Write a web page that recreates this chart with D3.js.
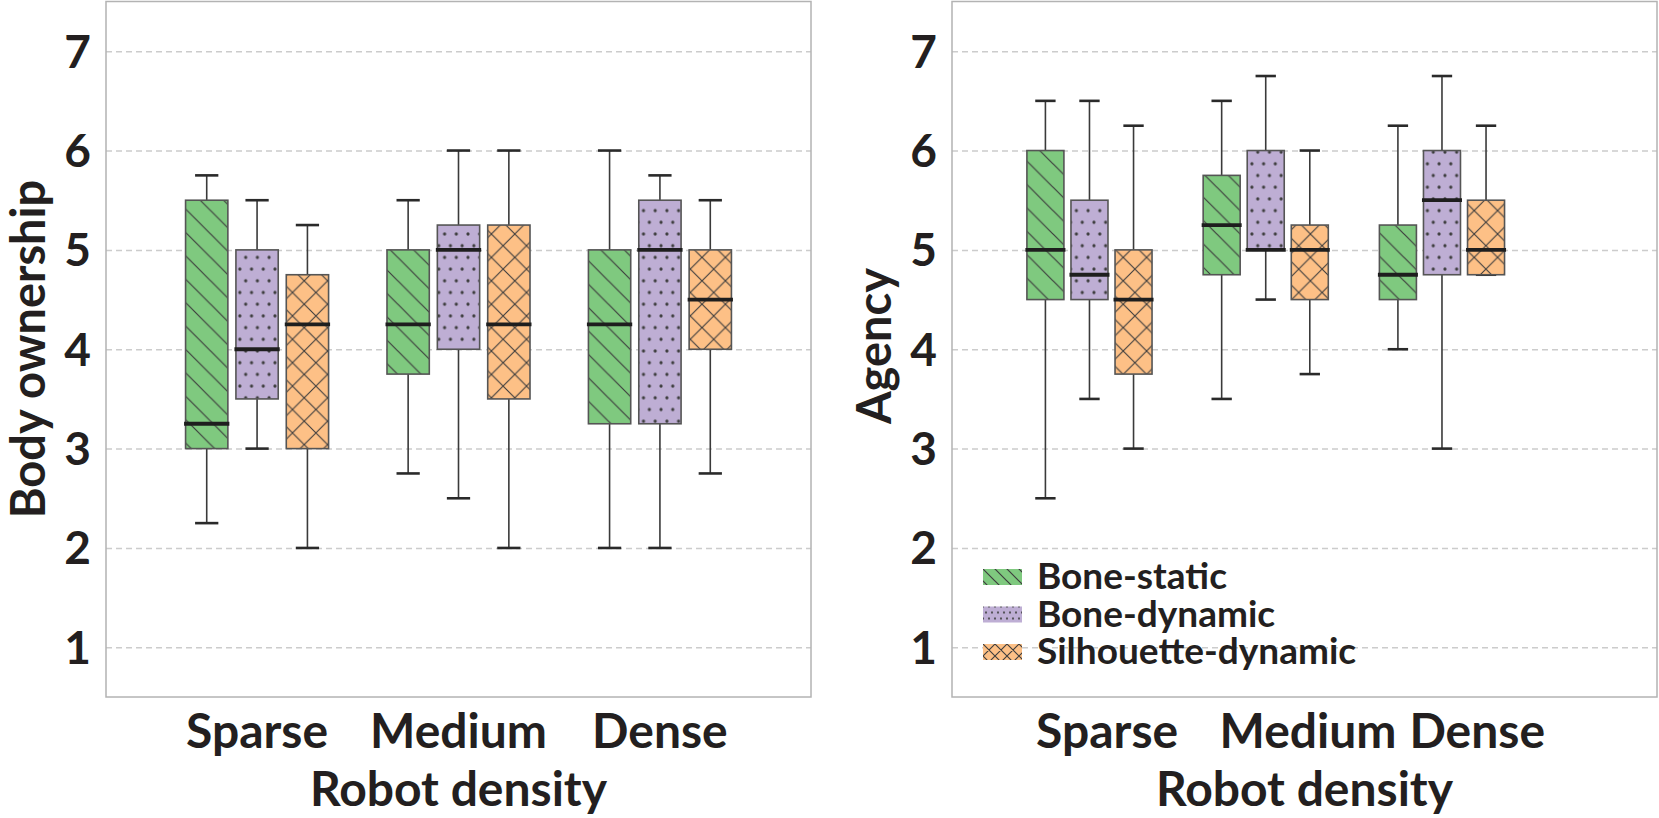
<!DOCTYPE html>
<html>
  <head>
    <meta charset="utf-8">
    <script src="https://d3js.org/d3.v7.min.js"></script>
    <title>Robot density boxplots</title>
    <style>
      body { margin: 0px; background: #fff; }
      text { font-family: Lato, 'Open Sans', sans-serif; font-weight: 700; fill: #231f20; }
      .tick-label { font-size: 46px; }
      .axis-label { font-size: 47px; }
      .legend-label { font-size: 37px; }
    </style>
  </head>
  <body>
    <svg width="1659" height="818"></svg>
    <script>
      const categories = ['Sparse', 'Medium', 'Dense'];
      const styles = ['Bone-static', 'Bone-dynamic', 'Silhouette-dynamic'];
      const styleColors = ['#7fc97f', '#beaed4', '#fdc086'];
      const yTicks = [1, 2, 3, 4, 5, 6, 7];

      // [low whisker, Q1, median, Q3, high whisker] per density, per style
      const bodySparse = [[2.25, 3.0, 3.25, 5.5, 5.75], [3.0, 3.5, 4.0, 5.0, 5.5], [2.0, 3.0, 4.25, 4.75, 5.25]];
      const bodyMedium = [[2.75, 3.75, 4.25, 5.0, 5.5], [2.5, 4.0, 5.0, 5.25, 6.0], [2.0, 3.5, 4.25, 5.25, 6.0]];
      const bodyDense  = [[2.0, 3.25, 4.25, 5.0, 6.0], [2.0, 3.25, 5.0, 5.5, 5.75], [2.75, 4.0, 4.5, 5.0, 5.5]];

      const agencySparse = [[2.5, 4.5, 5.0, 6.0, 6.5], [3.5, 4.5, 4.75, 5.5, 6.5], [3.0, 3.75, 4.5, 5.0, 6.25]];
      const agencyMedium = [[3.5, 4.75, 5.25, 5.75, 6.5], [4.5, 5.0, 5.0, 6.0, 6.75], [3.75, 4.5, 5.0, 5.25, 6.0]];
      const agencyDense  = [[4.0, 4.5, 4.75, 5.25, 6.25], [3.0, 4.75, 5.5, 6.0, 6.75], [4.75, 4.75, 5.0, 5.5, 6.25]];

      // where the category labels sit (in category units)
      const bodyTickAt = [0, 1, 2];
      const agencyTickAt = [0.1, 1.24, 2.2];

      const svg = d3.select('svg');
      const defs = svg.append('defs');

      // hatch patterns: diagonal, dots, cross
      const hatchColor = '#3d3d3d';
      function makePatterns(prefix, u) {
        const diag = defs.append('pattern').attr('id', prefix + '0')
          .attr('patternUnits', 'userSpaceOnUse').attr('width', u).attr('height', u);
        diag.append('rect').attr('width', u).attr('height', u).attr('fill', styleColors[0]);
        diag.append('path')
          .attr('d', `M-2,-2L${u + 2},${u + 2}M${u - 2},-2L${u + 2},2M-2,${u - 2}L2,${u + 2}`)
          .attr('stroke', hatchColor).attr('stroke-width', 1.2);

        const h = u / 2;
        const dots = defs.append('pattern').attr('id', prefix + '1')
          .attr('patternUnits', 'userSpaceOnUse').attr('width', h).attr('height', u);
        dots.append('rect').attr('width', h).attr('height', u).attr('fill', styleColors[1]);
        [[0, 0], [h, 0], [0, u], [h, u], [h / 2, h]].forEach(p => {
          dots.append('circle').attr('cx', p[0]).attr('cy', p[1])
            .attr('r', u > 15 ? 1.6 : 1.1).attr('fill', hatchColor);
        });

        const cross = defs.append('pattern').attr('id', prefix + '2')
          .attr('patternUnits', 'userSpaceOnUse').attr('width', u).attr('height', u);
        cross.append('rect').attr('width', u).attr('height', u).attr('fill', styleColors[2]);
        cross.append('path')
          .attr('d', `M-2,-2L${u + 2},${u + 2}M${u - 2},-2L${u + 2},2M-2,${u - 2}L2,${u + 2}` +
                     `M-2,${u + 2}L${u + 2},-2M-2,2L2,-2M${u - 2},${u + 2}L${u + 2},${u - 2}`)
          .attr('stroke', hatchColor).attr('stroke-width', 1.1);
      }
      makePatterns('hatch', 23.4);
      makePatterns('lhatch', 12);

      const y = d3.scaleLinear().domain([0.5, 7.5]).range([697, 1.5]);

      const panels = [
        { x0: 106, x1: 811, domain: [-0.75, 2.75], tickAt: bodyTickAt, label: 'Body ownership',
          labelX: 45, labelY: 349, data: [bodySparse, bodyMedium, bodyDense] },
        { x0: 952, x1: 1657, domain: [-0.78, 3.22], tickAt: agencyTickAt, label: 'Agency',
          labelX: 891, labelY: 346, data: [agencySparse, agencyMedium, agencyDense] }
      ];

      panels.forEach(p => {
        const x = d3.scaleLinear().domain(p.domain).range([p.x0, p.x1]);
        const step = x(1) - x(0);
        const offset = d3.scalePoint().domain(styles).range([-0.25 * step, 0.25 * step]);
        const boxW = 0.21 * step;
        const capW = 0.55 * boxW;
        const g = svg.append('g');

        // grid
        const yAxis = d3.axisLeft(y).tickValues(yTicks).tickSize(-(p.x1 - p.x0)).tickPadding(15).tickFormat(d3.format('d'));
        const yAxisG = g.append('g').attr('transform', `translate(${p.x0},0)`).call(yAxis);
        yAxisG.select('.domain').remove();
        yAxisG.selectAll('.tick line')
          .attr('stroke', '#cccccc').attr('stroke-width', 1.5).attr('stroke-dasharray', '6,4');
        yAxisG.selectAll('.tick text')
          .attr('class', 'tick-label').attr('dy', null).attr('y', 16)
          .attr('fill', '#231f20');
        yAxisG.attr('font-size', null).attr('font-family', null);

        // frame
        g.append('rect')
          .attr('x', p.x0).attr('y', y(7.5)).attr('width', p.x1 - p.x0).attr('height', y(0.5) - y(7.5))
          .attr('fill', 'none').attr('stroke', '#b3b3b3').attr('stroke-width', 1.5);

        // boxes
        const rows = [];
        p.data.forEach((grp, i) => grp.forEach((s, j) => rows.push({ i, j, s })));
        const bx = d => x(d.i) + offset(styles[d.j]);

        const bg = g.selectAll('.box').data(rows).enter().append('g').attr('class', 'box');
        bg.append('line')
          .attr('x1', bx).attr('x2', bx).attr('y1', d => y(d.s[0])).attr('y2', d => y(d.s[1]))
          .attr('stroke', '#3a3a3a').attr('stroke-width', 1.6);
        bg.append('line')
          .attr('x1', bx).attr('x2', bx).attr('y1', d => y(d.s[3])).attr('y2', d => y(d.s[4]))
          .attr('stroke', '#3a3a3a').attr('stroke-width', 1.6);
        [0, 4].forEach(k => {
          bg.append('line')
            .attr('x1', d => bx(d) - capW / 2).attr('x2', d => bx(d) + capW / 2)
            .attr('y1', d => y(d.s[k])).attr('y2', d => y(d.s[k]))
            .attr('stroke', '#2a2a2a').attr('stroke-width', 2.6);
        });
        bg.append('rect')
          .attr('x', d => bx(d) - boxW / 2).attr('width', boxW)
          .attr('y', d => y(d.s[3])).attr('height', d => y(d.s[1]) - y(d.s[3]))
          .attr('fill', d => `url(#hatch${d.j})`)
          .attr('stroke', '#555555').attr('stroke-width', 1.6);
        bg.append('line')
          .attr('x1', d => bx(d) - boxW / 2 - 1.5).attr('x2', d => bx(d) + boxW / 2 + 1.5)
          .attr('y1', d => y(d.s[2])).attr('y2', d => y(d.s[2]))
          .attr('stroke', '#1e1e1e').attr('stroke-width', 3.8);

        // category labels
        g.selectAll('.cat').data(categories).enter().append('text')
          .attr('class', 'tick-label')
          .attr('x', (d, i) => x(p.tickAt[i])).attr('y', 748)
          .attr('text-anchor', 'middle')
          .style('font-size', '48px')
          .text(d => d);

        g.append('text')
          .attr('class', 'axis-label')
          .attr('x', (p.x0 + p.x1) / 2).attr('y', 806)
          .attr('text-anchor', 'middle')
          .style('font-size', '48px')
          .text('Robot density');

        g.append('text')
          .attr('class', 'axis-label')
          .attr('transform', `translate(${p.labelX},${p.labelY}) rotate(-90)`)
          .attr('text-anchor', 'middle')
          .text(p.label);
      });

      // legend inside the right panel
      const legend = svg.append('g').attr('transform', 'translate(983,569)');
      const lg = legend.selectAll('g').data(styles).enter().append('g')
        .attr('transform', (d, i) => `translate(0,${i * 37.5})`);
      lg.append('rect').attr('width', 39).attr('height', 16)
        .attr('fill', (d, i) => `url(#lhatch${i})`);
      lg.append('text').attr('class', 'legend-label')
        .attr('x', 54).attr('y', 20)
        .text(d => d);
    </script>
  </body>
</html>
